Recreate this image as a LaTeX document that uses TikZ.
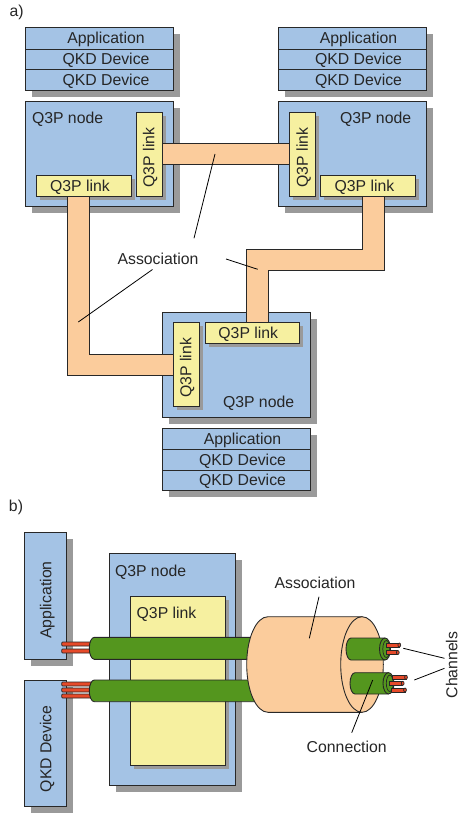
\documentclass[tikz,border=0pt]{standalone}
\usepackage{fontspec}
\setmainfont{Liberation Sans}
\usetikzlibrary{shadows}

\definecolor{qblue}{RGB}{164,195,229}
\definecolor{qyellow}{RGB}{246,240,160}
\definecolor{qpeach}{RGB}{251,204,156}
\definecolor{qgreen}{RGB}{84,150,30}
\definecolor{qred}{RGB}{230,74,42}
\definecolor{qshadow}{RGB}{154,154,154}
\definecolor{qline}{RGB}{40,40,40}

\tikzset{
  every node/.style={font=\fontsize{15.8}{18}\selectfont, inner sep=0pt, outer sep=0pt,
    text height=11.3pt, text depth=0pt, text=black!85},
  sz/.style 2 args={minimum width=#1pt, minimum height=#2pt},
  boxbase/.style={draw=qline, line width=0.9pt, anchor=north west},
  bluebox/.style={boxbase, fill=qblue,
    drop shadow={shadow xshift=6.7pt, shadow yshift=-6.7pt, fill=qshadow, opacity=1}},
  linkbox/.style={boxbase, fill=qyellow,
    drop shadow={shadow xshift=3.6pt, shadow yshift=-3.6pt, fill=qshadow, opacity=1}},
  assoc/.style={draw=qline, line width=0.9pt, fill=qpeach, line join=miter},
  tube/.style={draw=black!85, line width=0.9pt, fill=qgreen},
  wire/.style={draw=black!85, line width=0.7pt, fill=qred},
  leader/.style={draw=black, line width=0.8pt},
  vtext/.style={rotate=90},
}

\begin{document}
\begin{tikzpicture}[x=1pt, y=-1pt]
\useasboundingbox (0,0) rectangle (461,813);

% ---------------- a) ----------------
\node[anchor=base west] (lblA) at (9.5,16.8) {a)};

% protocol stacks
\node[bluebox, sz={147.6}{21.3}] (tlApp)  at (25.7,27.7) {};
\node[bluebox, sz={147.6}{20.7}] (tlQkdA) at (25.7,49.0) {};
\node[bluebox, sz={147.6}{21.0}] (tlQkdB) at (25.7,69.7) {};
\node (tlAppT)  at (106,38.3) {Application};
\node (tlQkdAT) at (106,59.3) {QKD Device};
\node (tlQkdBT) at (106,80.2) {QKD Device};

\node[bluebox, sz={147.7}{21.3}] (trApp)  at (278.3,27.7) {};
\node[bluebox, sz={147.7}{20.7}] (trQkdA) at (278.3,49.0) {};
\node[bluebox, sz={147.7}{21.0}] (trQkdB) at (278.3,69.7) {};
\node (trAppT)  at (358.5,38.3) {Application};
\node (trQkdAT) at (358.5,59.3) {QKD Device};
\node (trQkdBT) at (358.5,80.2) {QKD Device};

\node[bluebox, sz={147.3}{21.0}] (bApp)  at (162.7,428.3) {};
\node[bluebox, sz={147.3}{20.7}] (bQkdA) at (162.7,449.3) {};
\node[bluebox, sz={147.3}{20.7}] (bQkdB) at (162.7,470.0) {};
\node (bAppT)  at (242.5,438.8) {Application};
\node (bQkdAT) at (242.5,459.7) {QKD Device};
\node (bQkdBT) at (242.5,480.3) {QKD Device};

% Q3P nodes
\node[bluebox, sz={147.6}{105}] (tlNode) at (25.7,101.7) {};
\node[anchor=west] (tlNodeT) at (32,118) {Q3P node};
\node[bluebox, sz={147.7}{105}] (trNode) at (278.3,101.7) {};
\node[anchor=west] (trNodeT) at (340,118) {Q3P node};
\node[bluebox, sz={147.3}{104.7}] (bNode) at (162.7,312.3) {};
\node[anchor=west] (bNodeT) at (223,402.3) {Q3P node};

% Q3P links
\node[linkbox, sz={26.7}{84}] (tlLinkV) at (136,112.3) {};
\node[vtext] (tlLinkVT) at (148.6,157.5) {Q3P link};
\node[linkbox, sz={95}{21}] (tlLinkH) at (36,175) {};
\node (tlLinkHT) at (80,185.5) {Q3P link};

\node[linkbox, sz={26.4}{84}] (trLinkV) at (289.3,112.3) {};
\node[vtext] (trLinkVT) at (302.2,157.5) {Q3P link};
\node[linkbox, sz={94.6}{21}] (trLinkH) at (320.7,175) {};
\node (trLinkHT) at (364.5,185.5) {Q3P link};

\node[linkbox, sz={26}{84}] (bLinkV) at (173.3,322.7) {};
\node[vtext] (bLinkVT) at (185.6,367.8) {Q3P link};
\node[linkbox, sz={94.3}{20.6}] (bLinkH) at (205,322.7) {};
\node (bLinkHT) at (248.3,333) {Q3P link};

% associations between the links
\draw[assoc] (tlLinkV.east |- 0,143.3) rectangle (trLinkV.west |- 0,164.3);
\draw[assoc] (67.3,196) -- (89.3,196) -- (89.3,354.3) -- (bLinkV.west |- 0,354.3)
  -- (bLinkV.west |- 0,375) -- (67.3,375) -- cycle;
\draw[assoc] (362.7,196) -- (384,196) -- (384,270) -- (268.3,270) -- (268.3,322.7)
  -- (246.7,322.7) -- (246.7,249.3) -- (362.7,249.3) -- cycle;

\node (assocA) at (158,258.5) {Association};
\coordinate (aTopEnd) at (215,154);
\coordinate (aTopStart) at (194,238.3);
\coordinate (aLeftStart) at (152.5,269.5);
\coordinate (aLeftEnd) at (78.3,322);
\coordinate (aRightStart) at (226,259);
\coordinate (aRightEnd) at (257.7,269.3);
\draw[leader] (aTopStart) -- (aTopEnd);
\draw[leader] (aLeftStart) -- (aLeftEnd);
\draw[leader] (aRightStart) -- (aRightEnd);

% ---------------- b) ----------------
\node[anchor=base west] (lblB) at (9,511.5) {b)};

\node[bluebox, sz={42.4}{126.3}] (appB) at (24.3,532.7) {};
\node[vtext] (appBT) at (45.8,600) {Application};
\node[bluebox, sz={42.4}{125.3}] (qkdB) at (24.3,680.7) {};
\node[vtext] (qkdBT) at (45.8,748.8) {QKD Device};

\node[bluebox, sz={126.7}{232.4}] (nodeB) at (109,553.3) {};
\node[anchor=west] (nodeBT) at (115,570.7) {Q3P node};
\node[linkbox, sz={95.7}{169}] (linkB) at (130,596) {};
\node[anchor=west] (linkBT) at (136.7,612.7) {Q3P link};

% channels leaving the application and the QKD device
\foreach \yy in {644,651}
  \draw[wire, rounded corners=1pt] (61.7,\yy-2) rectangle (96,\yy+2);
\foreach \yy in {684,690,696}
  \draw[wire, rounded corners=1pt] (61.7,\yy-2) rectangle (96,\yy+2);

% connections
\draw[tube] (262,637.3) -- (94.3,637.3)
  arc[start angle=90, end angle=270, x radius=5pt, y radius=11pt] -- (262,659.3);
\draw[tube] (262,680) -- (94.3,680)
  arc[start angle=90, end angle=270, x radius=5pt, y radius=10.85pt] -- (262,701.7);

% association cylinder
\draw[assoc] (268,616.7) -- (362,616.7) -- (362,712.3) -- (268,712.3)
  arc[start angle=270, end angle=90, x radius=21.3pt, y radius=47.8pt] -- cycle;
\draw[assoc] (362,664.5) ellipse [x radius=21.3pt, y radius=47.8pt];

% connections emerging from the association
\draw[tube] (385,638) -- (351,638)
  arc[start angle=90, end angle=270, x radius=5pt, y radius=11pt] -- (385,660);
\draw[tube] (385,649) ellipse [x radius=5.5pt, y radius=11pt];
\draw[draw=black!85, line width=0.7pt] (386.3,649) ellipse [x radius=3.5pt, y radius=8.5pt];

\draw[tube] (388.5,672.7) -- (355,672.7)
  arc[start angle=90, end angle=270, x radius=5pt, y radius=10.65pt] -- (388.5,694);
\draw[tube] (388.5,683.3) ellipse [x radius=5.5pt, y radius=10.65pt];
\draw[draw=black!85, line width=0.7pt] (389.8,683.3) ellipse [x radius=3.5pt, y radius=8.2pt];

% channel ends
\foreach \ya/\xa/\xb in {645/386/399.3, 652.5/386/397.8, 677.3/392/406, 683.3/389/402.7, 690/391/405}{
  \draw[wire] (\xa,\ya-2) rectangle (\xb,\ya+2);
  \draw[wire] (\xb,\ya) ellipse [x radius=1.4pt, y radius=2pt];
}

% labels
\node (assocB) at (315,582.7) {Association};
\coordinate (bAssocEnd) at (309.3,638.3);
\draw[leader] (319,596.7) coordinate (bAssocStart) -- (bAssocEnd);

\node (connB) at (346.7,746.7) {Connection};
\coordinate (bConnEnd) at (372.7,680);
\draw[leader] (351.7,732.7) coordinate (bConnStart) -- (bConnEnd);

\node[vtext] (chanB) at (451.6,665) {Channels};
\coordinate (chanEndA) at (403.3,648.3);
\coordinate (chanEndB) at (414.3,680);
\draw[leader] (444.5,658.3) coordinate (chanStartA) -- (chanEndA);
\draw[leader] (444.5,668.3) coordinate (chanStartB) -- (chanEndB);
\end{tikzpicture}
\end{document}
